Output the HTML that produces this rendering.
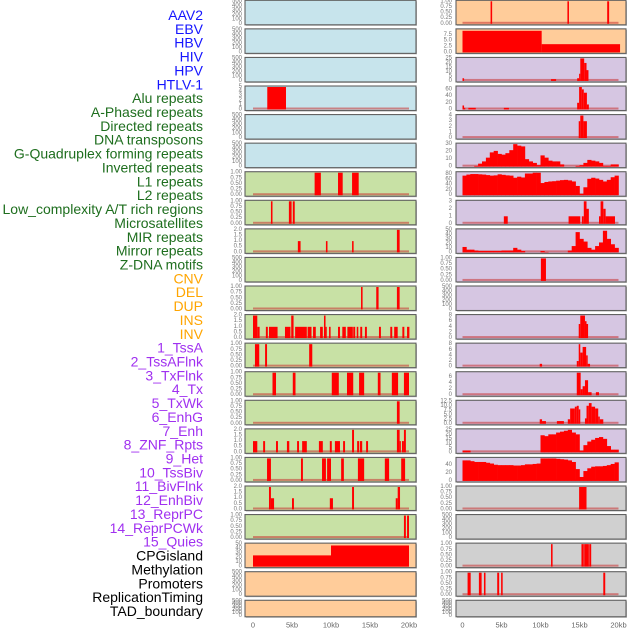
<!DOCTYPE html>
<html><head><meta charset="utf-8"><style>
html,body{margin:0;padding:0;background:#fff;width:630px;height:630px;overflow:hidden}
svg{display:block}
</style></head><body>
<svg id="chart" width="630" height="630" viewBox="0 0 630 630" xmlns="http://www.w3.org/2000/svg"></svg>
<script>
// ---------- labels ----------
const trackLabels = ["AAV2","EBV","HBV","HIV","HPV","HTLV-1","Alu repeats","A-Phased repeats","Directed repeats","DNA transposons","G-Quadruplex forming repeats","Inverted repeats","L1 repeats","L2 repeats","Low_complexity A/T rich regions","Microsatellites","MIR repeats","Mirror repeats","Z-DNA motifs","CNV","DEL","DUP","INS","INV","1_TssA","2_TssAFlnk","3_TxFlnk","4_Tx","5_TxWk","6_EnhG","7_Enh","8_ZNF_Rpts","9_Het","10_TssBiv","11_BivFlnk","12_EnhBiv","13_ReprPC","14_ReprPCWk","15_Quies","CPGisland","Methylation","Promoters","ReplicationTiming","TAD_boundary"];
const xTickLabels = ["0","5kb","10kb","15kb","20kb"];
const xTickValues = [0,5,10,15,20];
const ticks500 = ["0","100","200","300","400","500"];
const ticksFrac = ["0.00","0.25","0.50","0.75","1.00"];
const ticksHalf = ["0.0","0.5","1.0","1.5","2.0"];

// ---------- left column data: segments [startKb, endKb, value] ----------
const L3 = [[1.83,4.23,5]];
const L6 = [[7.9,8.7,1],[10.9,11.5,1],[12.7,13.55,1]];
const L7 = [[2.3,2.5,1],[4.6,4.95,1],[5.1,5.35,1]];
const L8 = [[5.75,6.1,1],[9.35,9.55,1],[12.7,12.9,1],[18.45,18.8,2]];
const L10 = [[13.85,14.05,1],[15.8,16.1,1],[18.45,18.8,1]];
const L11 = [[0,0.55,2],[0.55,0.85,1],[1.65,1.9,1],[2.05,3.15,1],[4.1,4.8,1],[4.9,5.2,2],[5.4,6.9,1],[7.0,7.5,1],[7.7,8.05,1],[8.6,8.95,1],[9.1,9.3,2],[9.3,9.45,1],[9.75,9.95,1],[10.9,11.15,1],[11.45,11.9,1],[12.1,12.8,1],[12.85,13.1,1],[13.3,13.5,1],[13.75,14.0,1],[14.35,14.6,1],[16.15,16.4,1],[17.6,17.85,1],[18.1,18.55,1],[19.15,19.4,1],[19.75,20.05,1]];
const L12 = [[0.25,0.8,1],[1.55,1.8,1],[7.2,7.6,1]];
const L13 = [[2.5,2.95,1],[5.1,5.45,1],[10.1,11.0,1],[12.05,12.85,1],[13.6,14.25,1],[16.0,16.35,1],[17.8,18.6,1],[19.35,20.0,1]];
const L14 = [[18.45,18.8,1]];
const L15 = [[0,0.55,1],[1.3,1.55,1],[2.95,3.2,1],[4.35,4.65,1],[5.65,5.9,1],[6.3,6.9,1],[8.45,8.95,1],[9.85,10.1,1],[10.5,11.15,1],[11.55,11.8,1],[12.7,12.95,2],[13.35,13.6,1],[13.7,14.0,1],[14.5,14.75,1],[18.45,18.8,2],[18.8,18.9,1],[19.1,19.35,1],[19.35,19.6,2]];
const L16 = [[1.8,2.3,1],[6.15,6.4,1],[8.85,9.35,1],[9.5,10.0,1],[11.3,11.65,1],[13.45,14.25,1],[16.9,17.45,1],[19.0,19.5,1]];
const L17 = [[2.05,2.3,2],[2.3,2.7,1],[5.0,5.25,1],[9.85,10.25,1],[12.7,12.95,2],[18.3,18.55,1],[18.55,18.85,2]];
const L18 = [[19.35,19.6,1],[19.75,20.0,1]];
const L19 = [[0,10,25],[10,20,47]];

// ---------- right column data ----------
const R0 = [[3.6,3.8,1],[13.45,13.65,1],[18.55,18.8,1]];
const R1 = [[0,10.15,9.2],[10.15,20.2,3.5]];
const R2 = [[0,0.2,3],[11.35,12.0,2],[14.7,14.95,3],[14.95,15.1,8],[15.1,15.6,25],[15.6,15.9,20],[15.9,16.15,12]];
const R3 = [[0,0.2,12],[0.2,0.3,5],[0.75,1.7,5],[5.3,5.95,5],[14.7,14.95,20],[14.95,15.3,67],[15.3,15.55,60],[15.55,15.95,50],[15.95,16.2,15]];
const R4 = [[14.9,15.1,3],[15.1,15.5,4],[15.5,15.95,3]];
// binned profiles (0.5 kb bins, 0-20 kb)
const R5bins = [0,0,0,1,4,7,12,19,21,17,16,18,22,30,28,27,10,7,5,2,15,12,8,7,7,3,0,0,0,1,2,5,9,8,7,5,1,1,3,3];
const R6bins = [74,78,80,80,79,78,76,74,75,79,77,75,74,66,70,67,82,82,85,85,46,50,52,53,55,57,58,56,52,35,5,30,62,66,63,58,52,58,68,74];
const R7 = [[5.3,5.8,1],[13.6,15.1,1],[15.3,15.55,1],[15.55,15.9,3],[15.9,16.2,2],[17.5,17.7,1],[17.7,18.05,3],[18.05,18.35,2],[18.35,19.55,1]];
const R8bins = [12,6,6,4,3,3,3,3,3,3,4,4,4,10,6,3,0,0,0,0,3,1,0,0,0,0,0,4,14,45,30,24,10,6,14,22,48,30,18,10];
const R9 = [[10.05,10.7,1]];
const R11 = [[14.9,15.1,5],[15.1,15.7,8],[15.7,15.9,6],[15.9,16.1,5]];
const R12 = [[9.9,10.2,1],[14.65,14.9,2],[14.9,15.1,8],[15.1,15.4,5],[15.4,15.85,7],[15.85,16.05,4],[16.05,16.35,1]];
const R13 = [[14.65,15.15,7.5],[15.15,15.4,2],[15.4,15.7,3],[15.7,16.1,5],[16.1,16.55,1],[17.1,17.5,1]];
const R14 = [[9.9,10.2,2.5],[10.2,10.7,1.5],[12.1,13.0,1.5],[13.5,13.8,2.5],[13.8,14.4,8.5],[14.4,14.65,9.5],[14.65,14.9,10],[14.9,15.1,8],[15.7,15.9,3],[15.9,16.2,10],[16.2,16.55,11.5],[16.55,17.0,9.5],[17.0,17.4,8.5],[17.4,17.6,4],[17.6,18.05,2.5]];
const R15bins = [2,2,0,0,0,0,0,0,0,0,0,0,0,0,0,0,0,0,0,0,19,18,20,20,22,23,24,25,22,20,2,8,12,14,16,17,15,7,3,3];
const R16bins = [52,52,50,48,48,48,46,44,41,40,40,40,40,39,39,40,42,42,43,44,57,57,57,57,56,55,54,52,48,30,10,25,32,36,37,37,38,40,43,47];
const R17 = [[14.95,15.9,1]];
const R19 = [[11.35,11.55,1],[15.25,15.55,1],[15.6,16.2,1],[16.25,16.5,1]];
const R20 = [[0.65,1.05,1],[2.1,2.45,1],[2.75,2.95,1],[4.45,4.7,1],[4.95,5.15,1],[18.05,18.3,1]];

const BLUE="#c7e4ec", GREEN="#c8e1a5", ORANGE="#ffcc9a", PURPLE="#d6c6e2", GRAY="#d0d0d0";
const leftCol = [
 {bg:BLUE,ymax:500,ticks:ticks500},{bg:BLUE,ymax:500,ticks:ticks500},{bg:BLUE,ymax:500,ticks:ticks500},
 {bg:BLUE,ymax:5,ticks:["0","1","2","3","4","5"],seg:L3},
 {bg:BLUE,ymax:500,ticks:ticks500},{bg:BLUE,ymax:500,ticks:ticks500},
 {bg:GREEN,ymax:1,ticks:ticksFrac,seg:L6},{bg:GREEN,ymax:1,ticks:ticksFrac,seg:L7},
 {bg:GREEN,ymax:2,ticks:ticksHalf,seg:L8},{bg:GREEN,ymax:500,ticks:ticks500},
 {bg:GREEN,ymax:1,ticks:ticksFrac,seg:L10},{bg:GREEN,ymax:2,ticks:ticksHalf,seg:L11},
 {bg:GREEN,ymax:1,ticks:ticksFrac,seg:L12},{bg:GREEN,ymax:1,ticks:ticksFrac,seg:L13},
 {bg:GREEN,ymax:1,ticks:ticksFrac,seg:L14},{bg:GREEN,ymax:2,ticks:ticksHalf,seg:L15},
 {bg:GREEN,ymax:1,ticks:ticksFrac,seg:L16},{bg:GREEN,ymax:2,ticks:ticksHalf,seg:L17},
 {bg:GREEN,ymax:1,ticks:ticksFrac,seg:L18},
 {bg:ORANGE,ymax:50,ticks:["0","10","20","30","40","50"],seg:L19},
 {bg:ORANGE,ymax:500,ticks:ticks500},{bg:ORANGE,ymax:500,ticks:ticks500}
];
const rightCol = [
 {bg:ORANGE,ymax:1,ticks:ticksFrac,seg:R0},
 {bg:ORANGE,ymax:9.6,ticks:["0.0","2.5","5.0","7.5"],seg:R1},
 {bg:PURPLE,ymax:25,ticks:["0","5","10","15","20","25"],seg:R2},
 {bg:PURPLE,ymax:67,ticks:["0","20","40","60"],seg:R3},
 {bg:PURPLE,ymax:4,ticks:["0","1","2","3","4"],seg:R4},
 {bg:PURPLE,ymax:30,ticks:["0","10","20","30"],bins:R5bins},
 {bg:PURPLE,ymax:85,ticks:["0","20","40","60","80"],bins:R6bins},
 {bg:PURPLE,ymax:3,ticks:["0","1","2","3"],seg:R7},
 {bg:PURPLE,ymax:50,ticks:["0","10","20","30","40","50"],bins:R8bins},
 {bg:PURPLE,ymax:1,ticks:ticksFrac,seg:R9},
 {bg:PURPLE,ymax:500,ticks:ticks500},
 {bg:PURPLE,ymax:8,ticks:["0","2","4","6","8"],seg:R11},
 {bg:PURPLE,ymax:8,ticks:["0","2","4","6","8"],seg:R12},
 {bg:PURPLE,ymax:7.5,ticks:["0","2","4","6"],seg:R13,tickMax:7.5},
 {bg:PURPLE,ymax:12.5,ticks:["0.0","2.5","5.0","7.5","10.0","12.5"],seg:R14},
 {bg:PURPLE,ymax:25,ticks:["0","5","10","15","20","25"],bins:R15bins},
 {bg:PURPLE,ymax:57,ticks:["0","20","40"],bins:R16bins},
 {bg:GRAY,ymax:1,ticks:ticksFrac,seg:R17},
 {bg:GRAY,ymax:500,ticks:ticks500},
 {bg:GRAY,ymax:1,ticks:ticksFrac,seg:R19},
 {bg:GRAY,ymax:1,ticks:ticksFrac,seg:R20},
 {bg:GRAY,ymax:500,ticks:ticks500}
];

const svg = document.getElementById('chart');
const NS = "http://www.w3.org/2000/svg";
function mk(tag, attrs, parent){const e=document.createElementNS(NS,tag);for(const k in attrs)e.setAttribute(k,attrs[k]);(parent||svg).appendChild(e);return e;}

// labels
const labelColors = i => i<6?"#1515ff":i<19?"#1e6e1e":i<24?"#ffa500":i<39?"#a030f0":"#000";
trackLabels.forEach((t,i)=>{
  const e = mk('text',{x:203,y:15+i*13.86,'text-anchor':'end','dominant-baseline':'central','font-family':'Liberation Sans, sans-serif','font-size':'14',fill:labelColors(i)});
  e.textContent=t;
  
  
});

const cols = [
  {panels:leftCol, fx0:245, fx1:416, x0:253, tx:242, name:'left'},
  {panels:rightCol, fx0:456, fx1:626, x0:462.5, tx:452, name:'right'}
];
const KB = 7.8;
cols.forEach(col=>{
  const xs = kb => col.x0 + kb*KB;
  col.panels.forEach((p,r)=>{
    const top = r*28.57 + 0.3;
    const h = r===21 ? 16.5 : 24.5;
    const bot = top+h;
    const g = mk('g',{});
    
    
    mk('rect',{x:col.fx0+1,y:top+1,width:col.fx1-col.fx0,height:h,fill:'#bbb'},g);
    mk('rect',{x:col.fx0,y:top,width:col.fx1-col.fx0,height:h,fill:p.bg,stroke:'#606060','stroke-width':1.1},g);
    const pt = top+1, pb = bot-1;
    const ys = v => pb - v/p.ymax*(pb-pt);
    // ticks
    const tmax = p.tickMax || p.ymax;
    p.ticks.forEach((t,k)=>{
      const val = p.ymax===500 ? k*100 : parseFloat(t);
      const e = mk('text',{x:col.tx,y:ys(val),'text-anchor':'end','dominant-baseline':'central','font-family':'Liberation Sans, sans-serif','font-size':'6',fill:'#777'},g);
      e.textContent=t;
      
      
    });
    const hasData = p.seg || p.bins;
    if(hasData){
      const bl = mk('rect',{x:xs(0),y:pb-2,width:xs(20)-xs(0),height:2,fill:'rgba(200,50,50,0.55)'},g);
      
      
    }
    if(p.seg){
      p.seg.forEach(s=>{
        const b = mk('rect',{x:xs(s[0]),y:ys(s[2]),width:Math.max(1.2,xs(s[1])-xs(s[0])),height:pb-ys(s[2]),fill:'#ff0000'},g);
        
        
      });
    }
    if(p.bins){
      p.bins.forEach((v,i)=>{
        if(v<=0) return;
        const b = mk('rect',{x:xs(i*0.5),y:ys(v),width:xs(0.5)-xs(0)+0.3,height:pb-ys(v),fill:'#ff0000'},g);
        
        
      });
    }
  });
  xTickValues.forEach((v,i)=>{
    const e = mk('text',{x:xs(v),y:625,'text-anchor':'middle','dominant-baseline':'central','font-family':'Liberation Sans, sans-serif','font-size':'7.5',fill:'#666'});
    e.textContent = xTickLabels[i];
    
    
  });
});
</script>
</body></html>
